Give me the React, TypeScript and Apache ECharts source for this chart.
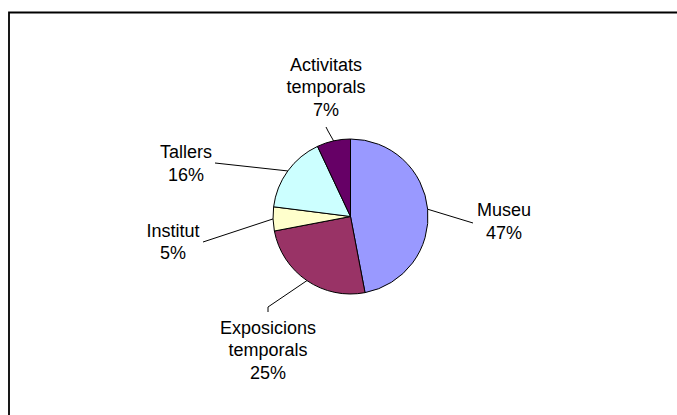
import React, { useEffect, useRef } from 'react';
import * as echarts from 'echarts';

// ---- data ----
const categories = ['Museu', 'Exposicions temporals', 'Institut', 'Tallers', 'Activitats temporals'];
const values = [47, 25, 5, 16, 7];
const colors = ['#9999FF', '#993366', '#FFFFCC', '#CCFFFF', '#660066'];

// ---- label layout (text block centre + leader-line elbow points, label side first) ----
const labelBoxes = [
  { x: 504, y: 221.5, guide: [[473, 223]] },
  { x: 268, y: 350, guide: [[268, 312], [268, 307]] },
  { x: 173, y: 242, guide: [[203, 242]] },
  { x: 186, y: 163.5, guide: [[215, 163]] },
  { x: 326, y: 87, guide: [[326, 127], [328, 131]] },
];

const FONT = '"Liberation Sans", Arial, Helvetica, sans-serif';

export default function App() {
  const ref = useRef<HTMLDivElement>(null);
  useEffect(() => {
    if (!ref.current) return;
    const chart = echarts.init(ref.current, null, { renderer: 'svg' });
    chart.setOption({
      animation: false,
      backgroundColor: '#ffffff',
      graphic: [
        {
          type: 'rect',
          shape: { x: 9, y: 12.5, width: 720, height: 460 },
          style: { fill: 'none', stroke: '#000', lineWidth: 1.8 },
          silent: true,
        },
      ],
      series: [
        {
          type: 'pie',
          center: [350.5, 216.5],
          radius: 77.5,
          startAngle: 90,
          clockwise: true,
          avoidLabelOverlap: false,
          itemStyle: { borderColor: '#000', borderWidth: 1 },
          label: {
            show: true,
            position: 'outside',
            color: '#000',
            fontFamily: FONT,
            fontSize: 18,
            lineHeight: 22.5,
            align: 'center',
            formatter: (p: any) => `${String(p.name).replace(' ', '\n')}\n${p.value}%`,
          },
          labelLine: {
            show: true,
            length: 10,
            length2: 10,
            lineStyle: { color: '#000', width: 1 },
          },
          labelLayout: (params: any) => {
            const box = labelBoxes[params.dataIndex];
            const start = params.labelLinePoints ? params.labelLinePoints[0] : null;
            const pts = [] as number[][];
            if (start) pts.push(start);
            for (let i = box.guide.length - 1; i >= 0; i--) pts.push(box.guide[i]);
            return {
              x: box.x,
              y: box.y,
              align: 'center',
              verticalAlign: 'middle',
              labelLinePoints: pts,
            };
          },
          data: categories.map((name, i) => ({
            name,
            value: values[i],
            itemStyle: { color: colors[i] },
          })),
        },
      ],
    });
    return () => chart.dispose();
  }, []);
  return (
    <div
      ref={ref}
      style={{ position: 'fixed', left: 0, top: 0, width: 677, height: 415 }}
    />
  );
}
